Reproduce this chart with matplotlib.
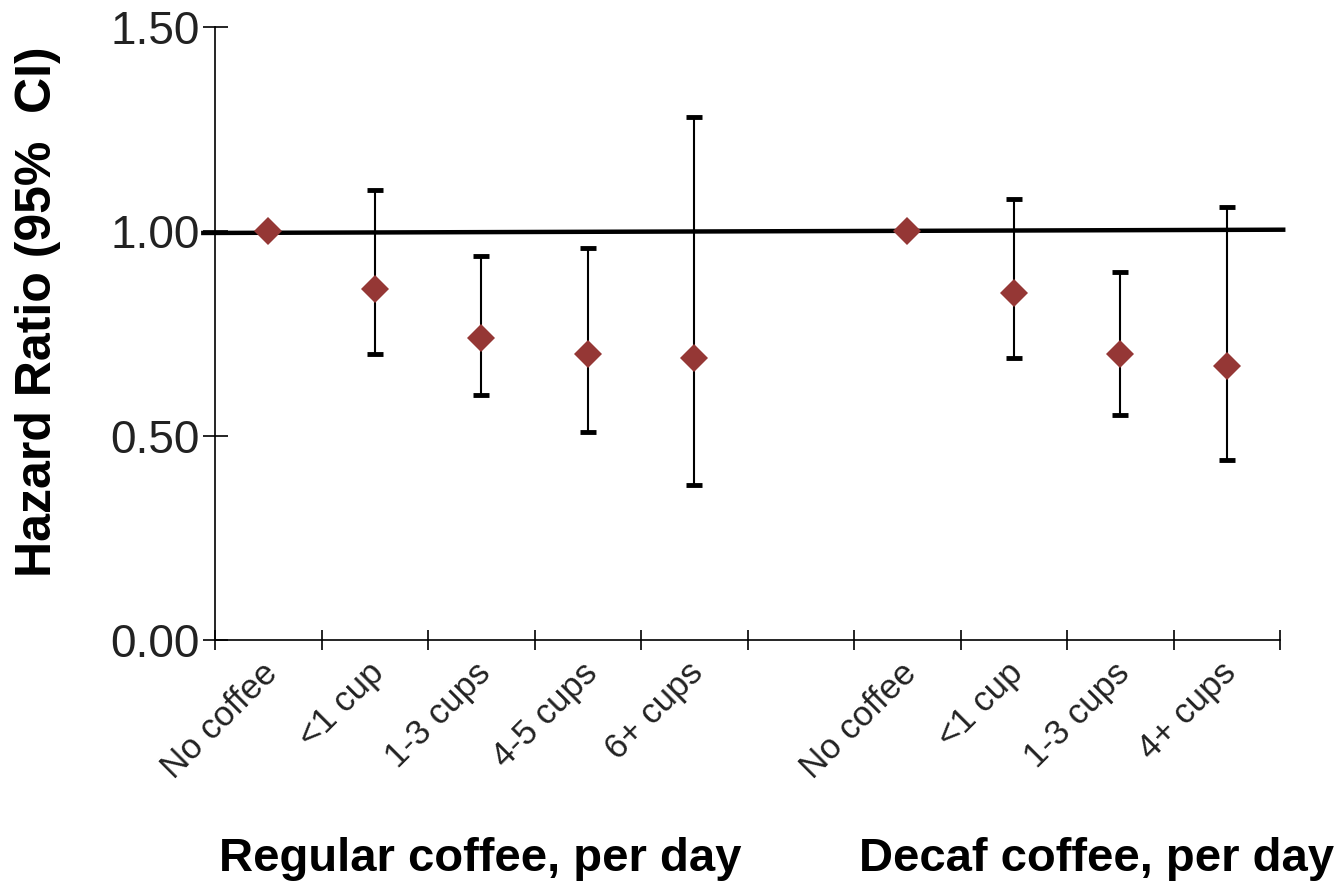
import matplotlib
matplotlib.use("Agg")
import matplotlib.pyplot as plt

plt.rcParams['font.family'] = ['Liberation Sans', 'DejaVu Sans']

# categories along the x axis (blank slot separates regular and decaf)
categories = ["No coffee", "<1 cup", "1-3 cups", "4-5 cups", "6+ cups", "",
              "No coffee", "<1 cup", "1-3 cups", "4+ cups"]
# hazard ratios and 95% CI bounds
hr = [1.00, 0.86, 0.74, 0.70, 0.69, None, 1.00, 0.85, 0.70, 0.67]
ci_low = [1.00, 0.70, 0.60, 0.51, 0.38, None, 1.00, 0.69, 0.55, 0.44]
ci_high = [1.00, 1.10, 0.94, 0.96, 1.28, None, 1.00, 1.08, 0.90, 1.06]
group_labels = ["Regular coffee, per day", "Decaf coffee, per day"]
ref_value = 1.0

marker_color = "#953735"

fig = plt.figure(figsize=(13.44, 8.86), dpi=100)
ax = fig.add_axes([0.16, 0.2777, 0.7924, 0.6918])

# reference line at HR = 1 (slightly tilted as in the original)
ax.plot([-0.61, 9.53], [ref_value - 0.004, ref_value + 0.004], color="black",
        lw=3.2, clip_on=False, zorder=2)

xs = [i for i, v in enumerate(hr) if v is not None]
ys = [hr[i] for i in xs]
# error bars only where the CI is not degenerate (reference groups have none)
bar_x = [i for i in xs if ci_high[i] > ci_low[i]]
bar_y = [hr[i] for i in bar_x]
bar_lo = [hr[i] - ci_low[i] for i in bar_x]
bar_hi = [ci_high[i] - hr[i] for i in bar_x]
ax.errorbar(bar_x, bar_y, yerr=[bar_lo, bar_hi], fmt="none", ecolor="black",
            elinewidth=1.5, capsize=6, capthick=3.5, zorder=3)
ax.plot(xs, ys, linestyle="none", marker="D", markersize=14,
        color=marker_color, markeredgewidth=0, zorder=4)

ax.set_xlim(-0.5, 9.5)
ax.set_ylim(0, 1.5)
ax.set_yticks([0, 0.5, 1.0, 1.5])
ax.set_yticklabels(["0.00", "0.50", "1.00", "1.50"])
ax.tick_params(axis="y", direction="inout", length=18, width=1.2,
               labelsize=33, pad=2, labelcolor="#222222")

# category ticks at slot boundaries, labels at slot centres
ax.set_xticks([i - 0.5 for i in range(11)])
ax.set_xticklabels([])
ax.tick_params(axis="x", direction="inout", length=14, width=1.2)
for i, lab in enumerate(categories):
    if lab:
        ax.text(i - 0.07, -0.04, lab, rotation=45, ha="right", va="top",
                rotation_mode="anchor", fontsize=25, color="#222222",
                transform=ax.transData)

for side in ["top", "right"]:
    ax.spines[side].set_visible(False)
for side in ["left", "bottom"]:
    ax.spines[side].set_linewidth(1.2)

fig.text(0.028, 0.648, "Hazard Ratio (95%  CI)", rotation=90, ha="center",
         va="center", fontsize=36, fontweight="bold")

fig.text(0.357, 0.017, group_labels[0], ha="center", va="baseline",
         fontsize=34, fontweight="bold")
fig.text(0.639, 0.017, group_labels[1], ha="left", va="baseline",
         fontsize=34, fontweight="bold")

fig.savefig("out.png", dpi=100)
